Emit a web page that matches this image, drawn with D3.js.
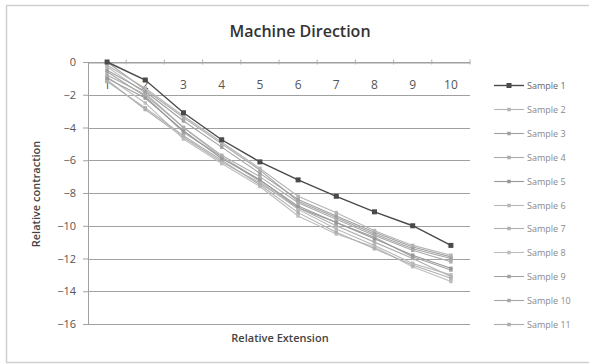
<!DOCTYPE html>
<html lang="en">
<head>
<meta charset="UTF-8">
<title>Machine Direction</title>
<style>
  body { margin: 0; background: #fff; }
  svg text { font-family: "Open Sans", "Liberation Sans", sans-serif; }
</style>
</head>
<body>
<div id="chart"></div>
<script src="https://cdnjs.cloudflare.com/ajax/libs/d3/7.8.5/d3.min.js"></script>
<script>
// categories on the x axis
var categories = [1, 2, 3, 4, 5, 6, 7, 8, 9, 10];
var yTicks = [0, -2, -4, -6, -8, -10, -12, -14, -16];

// series
var sample1  = [0, -1.1, -3.1, -4.75, -6.1, -7.2, -8.2, -9.15, -10.0, -11.2];
var sample2  = [-0.2, -1.6, -3.3, -4.9, -6.5, -8.2, -9.2, -10.3, -11.2, -11.8];
var sample3  = [-0.5, -1.8, -3.6, -5.2, -6.8, -8.4, -9.4, -10.4, -11.3, -11.9];
var sample4  = [-0.8, -2.0, -4.0, -5.7, -7.0, -8.6, -9.6, -10.6, -11.5, -12.2];
var sample5  = [-1.0, -2.2, -4.2, -5.9, -7.2, -8.8, -9.8, -10.8, -11.8, -12.6];
var sample6  = [-0.3, -1.9, -4.0, -5.8, -7.3, -9.0, -10.2, -11.2, -12.3, -13.0];
var sample7  = [-1.2, -2.8, -4.5, -6.0, -7.5, -9.2, -10.4, -11.4, -12.4, -13.2];
var sample8  = [-0.9, -2.5, -4.7, -6.2, -7.6, -9.4, -10.5, -11.3, -12.5, -13.4];
var sample9  = [-0.6, -2.1, -4.3, -5.8, -7.2, -8.9, -9.8, -10.7, -11.9, -12.7];
var sample10 = [0, -1.7, -3.4, -5.0, -6.6, -8.5, -9.5, -10.5, -11.4, -12.0];
var sample11 = [-1.1, -2.9, -4.6, -6.1, -7.4, -8.9, -10.0, -11.0, -12.0, -13.1];

var seriesNames = ["Sample 1", "Sample 2", "Sample 3", "Sample 4", "Sample 5", "Sample 6",
                   "Sample 7", "Sample 8", "Sample 9", "Sample 10", "Sample 11"];
var seriesValues = [sample1, sample2, sample3, sample4, sample5, sample6,
                    sample7, sample8, sample9, sample10, sample11];
var seriesColors = ["#4a4a4a", "#b4b4b4", "#a0a0a0", "#ababab", "#989898", "#b8b8b8",
                    "#b0b0b0", "#bdbdbd", "#a2a2a2", "#a6a6a6", "#adadad"];

var W = 589, H = 364;
var plot = {left: 88, right: 470, top: 62, bottom: 324};

var svg = d3.select("#chart").append("svg")
    .attr("width", W)
    .attr("height", H);

// outer frame
svg.append("rect")
    .attr("x", 6.5).attr("y", 5.5)
    .attr("width", W).attr("height", 357)
    .attr("fill", "#fff")
    .attr("stroke", "#d0d0d0")
    .attr("stroke-width", 1.5);

var x = d3.scaleBand().domain(categories).range([plot.left, plot.right]);
var y = d3.scaleLinear().domain([-16, 0]).range([plot.bottom, plot.top]);

// gridlines
svg.append("g")
    .selectAll("line")
    .data(yTicks)
    .enter().append("line")
    .attr("x1", plot.left).attr("x2", plot.right)
    .attr("y1", d => Math.round(y(d)) + 0.5)
    .attr("y2", d => Math.round(y(d)) + 0.5)
    .attr("stroke", "#a0a0a0")
    .attr("stroke-width", 1.2);

// y axis
var yAxis = d3.axisLeft(y).tickValues(yTicks).tickSize(5).tickPadding(7);
var gy = svg.append("g")
    .attr("transform", `translate(${plot.left},0)`)
    .call(yAxis);
gy.select(".domain").attr("stroke", "#a0a0a0");
gy.selectAll(".tick line").attr("stroke", "#a0a0a0");
gy.selectAll("text")
    .attr("fill", "#555")
    .style("font-size", "11px");

// x axis at value 0, labels dropped below
var xAxis = d3.axisBottom(x).tickSize(0).tickPadding(18);
var gx = svg.append("g")
    .attr("transform", `translate(0,${Math.round(y(0)) + 0.5})`)
    .call(xAxis);
gx.select(".domain").attr("stroke", "#a0a0a0");
gx.selectAll("text")
    .attr("fill", "#555")
    .style("font-size", "12px");
// small tick marks between categories
gx.selectAll(".minor")
    .data(categories)
    .enter().append("line")
    .attr("x1", d => x(d) + x.bandwidth())
    .attr("x2", d => x(d) + x.bandwidth())
    .attr("y1", -3).attr("y2", 2)
    .attr("stroke", "#b0b0b0");

// lines
var line = d3.line()
    .x((d, i) => x(categories[i]) + x.bandwidth() / 2)
    .y(d => y(d));

function markerSize(s) { return s === 0 ? 5 : 3.5; }

var order = d3.range(seriesValues.length).reverse();
order.forEach(function(s) {
    var g = svg.append("g");
    var m = markerSize(s);
    g.append("path")
        .datum(seriesValues[s])
        .attr("d", line)
        .attr("fill", "none")
        .attr("stroke", seriesColors[s])
        .attr("stroke-width", s === 0 ? 1.4 : 1.1);
    g.selectAll("rect")
        .data(seriesValues[s])
        .enter().append("rect")
        .attr("x", (d, i) => x(categories[i]) + x.bandwidth() / 2 - m / 2)
        .attr("y", d => y(d) - m / 2)
        .attr("width", m).attr("height", m)
        .attr("fill", seriesColors[s]);
});

// legend
var legend = svg.append("g");
var legY = d3.scalePoint().domain(seriesNames).range([85, 324]);
seriesNames.forEach(function(name, i) {
    var ly = Math.round(legY(name)) + 0.5;
    var m = markerSize(i);
    legend.append("line")
        .attr("x1", 494).attr("x2", 524)
        .attr("y1", ly).attr("y2", ly)
        .attr("stroke", seriesColors[i])
        .attr("stroke-width", i === 0 ? 1.4 : 1.1);
    legend.append("rect")
        .attr("x", 509 - m / 2).attr("y", ly - m / 2)
        .attr("width", m).attr("height", m)
        .attr("fill", seriesColors[i]);
    legend.append("text")
        .attr("x", 527).attr("y", ly + 3.5)
        .attr("fill", i === 0 ? "#666" : "#8a8a8a")
        .style("font-size", "9px")
        .text(name);
});

// title and axis titles
svg.append("text")
    .attr("x", 300).attr("y", 37)
    .attr("text-anchor", "middle")
    .attr("fill", "#333")
    .style("font-size", "16px")
    .style("font-weight", "600")
    .text("Machine Direction");

svg.append("text")
    .attr("transform", "translate(40,194) rotate(-90)")
    .attr("text-anchor", "middle")
    .attr("fill", "#444")
    .style("font-size", "11px")
    .style("font-weight", "600")
    .text("Relative contraction");

svg.append("text")
    .attr("x", 280).attr("y", 342)
    .attr("text-anchor", "middle")
    .attr("fill", "#444")
    .style("font-size", "11px")
    .style("font-weight", "600")
    .text("Relative Extension");
</script>
</body>
</html>
